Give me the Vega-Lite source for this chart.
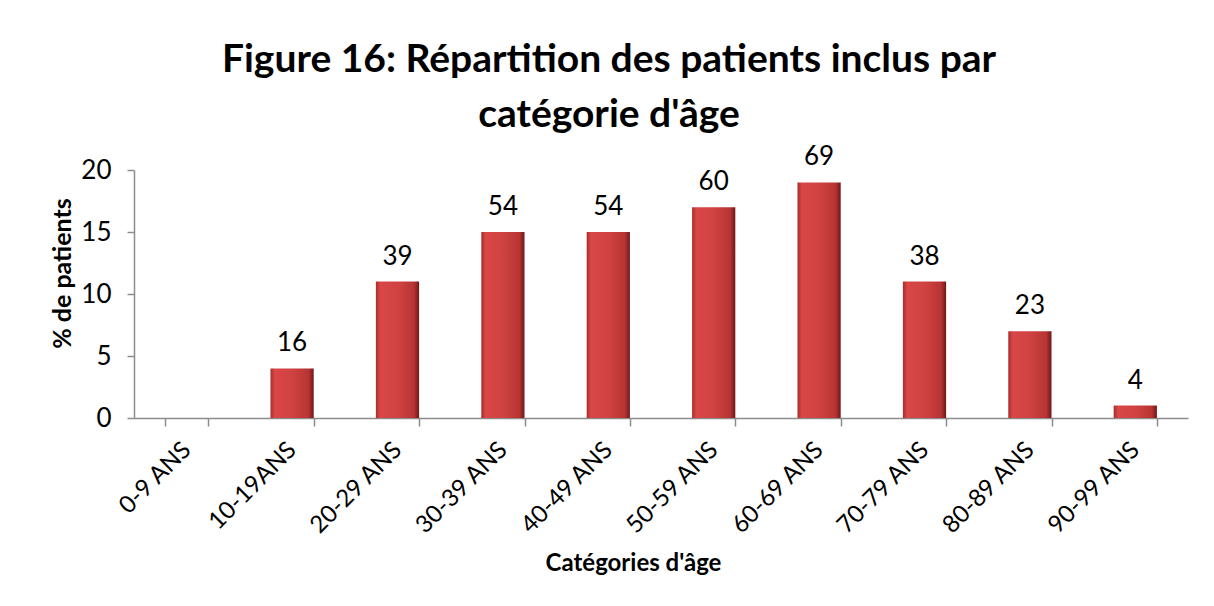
{
  "$schema": "https://vega.github.io/schema/vega-lite/v6.json",
  "autosize": {"type": "none"},
  "width": 1054,
  "height": 248,
  "padding": {"left": 134, "top": 170, "right": 26, "bottom": 188},
  "background": "white",
  "config": {
    "view": {"stroke": null},
    "font": "Lato"
  },
  "title": {
    "text": ["Figure 16: Répartition des patients inclus par", "catégorie d'âge"],
    "font": "Lato",
    "fontSize": 39,
    "fontWeight": "bold",
    "color": "#000000",
    "anchor": "middle",
    "baseline": "bottom",
    "lineHeight": 55,
    "dx": -52,
    "offset": -30
  },
  "data": {
    "values": [
      {"cat": "0-9 ANS", "pct": 0, "n": null},
      {"cat": "10-19ANS", "pct": 4, "n": 16},
      {"cat": "20-29 ANS", "pct": 11, "n": 39},
      {"cat": "30-39 ANS", "pct": 15, "n": 54},
      {"cat": "40-49 ANS", "pct": 15, "n": 54},
      {"cat": "50-59 ANS", "pct": 17, "n": 60},
      {"cat": "60-69 ANS", "pct": 19, "n": 69},
      {"cat": "70-79 ANS", "pct": 11, "n": 38},
      {"cat": "80-89 ANS", "pct": 7, "n": 23},
      {"cat": "90-99 ANS", "pct": 1, "n": 4}
    ]
  },
  "encoding": {
    "x": {
      "field": "cat",
      "type": "nominal",
      "sort": null,
      "scale": {"paddingInner": 0.59, "paddingOuter": 0.295},
      "axis": {
        "title": "Catégories d'âge",
        "titleFont": "Lato",
        "titleFontSize": 24,
        "titleFontWeight": "bold",
        "titleColor": "#000000",
        "titleX": 499,
        "titleY": 152,
        "titleBaseline": "alphabetic",
        "labelAngle": -45,
        "labelAlign": "right",
        "labelBaseline": "middle",
        "labelFontSize": 24,
        "labelColor": "#000000",
        "labelPadding": 20,
        "tickBand": "extent",
        "tickSize": 8,
        "tickColor": "#8c8c8c",
        "domainColor": "#8c8c8c",
        "domainWidth": 1.5,
        "tickWidth": 1.5,
        "grid": false
      }
    },
    "y": {
      "field": "pct",
      "type": "quantitative",
      "scale": {"domain": [0, 20], "nice": false},
      "axis": {
        "title": "% de patients",
        "titleFont": "Lato",
        "titleFontSize": 25,
        "titleFontWeight": "bold",
        "titleColor": "#000000",
        "titleX": -72,
        "titleY": 103,
        "titleBaseline": "middle",
        "titleAngle": -90,
        "values": [0, 5, 10, 15, 20],
        "labelFontSize": 26,
        "labelColor": "#000000",
        "labelPadding": 16,
        "tickSize": 7,
        "tickColor": "#8c8c8c",
        "domainColor": "#8c8c8c",
        "domainWidth": 1.5,
        "tickWidth": 1.5,
        "grid": false
      }
    }
  },
  "layer": [
    {
      "mark": {
        "type": "bar",
        "color": {
          "gradient": "linear",
          "x1": 0, "x2": 1, "y1": 0, "y2": 0,
          "stops": [
            {"offset": 0, "color": "#a82c2c"},
            {"offset": 0.1, "color": "#d94747"},
            {"offset": 0.5, "color": "#d04242"},
            {"offset": 0.88, "color": "#b83434"},
            {"offset": 1, "color": "#6e1818"}
          ]
        }
      }
    },
    {
      "transform": [{"filter": "datum.n != null"}],
      "mark": {"type": "text", "dy": -17, "fontSize": 26, "color": "#000000", "baseline": "alphabetic", "font": "Lato"},
      "encoding": {"text": {"field": "n", "type": "quantitative"}}
    }
  ]
}
